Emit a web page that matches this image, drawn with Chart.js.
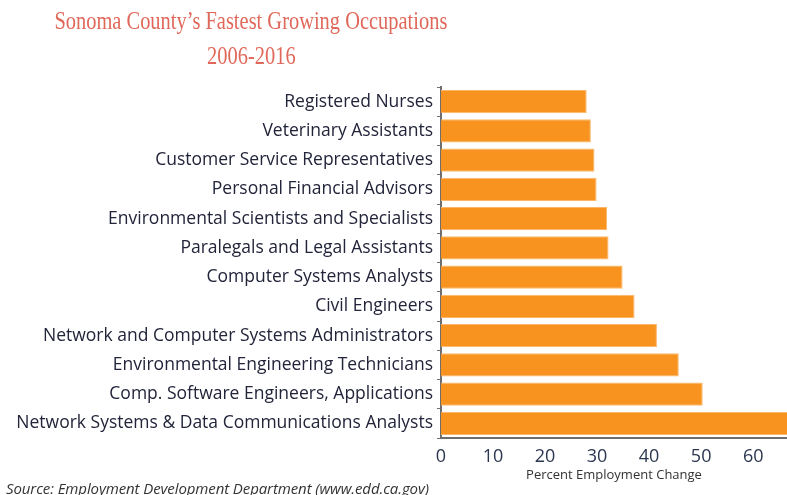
<!DOCTYPE html>
<html>
<head>
<meta charset="utf-8">
<script src="https://cdn.jsdelivr.net/npm/chart.js@4"></script>
<style>
  body { margin: 0; background: #fff; }
  #wrap { position: relative; width: 787px; height: 495px; overflow: hidden; }
  #title {
    position: absolute; left: 0; width: 502px; top: 3px;
    text-align: center; font-family: 'Liberation Serif', serif;
    font-size: 26px; line-height: 35px; color: #e0685a; white-space: nowrap;
  }
  #title span { display: inline-block; transform-origin: center; }
  #source {
    position: absolute; left: 6px; top: 478px;
    font-family: 'Open Sans', sans-serif; font-style: italic;
    font-size: 15px; color: #333; white-space: nowrap;
    letter-spacing: -0.1px;
  }
  canvas { position: absolute; left: 0; top: 0; }
</style>
</head>
<body>
<div id="wrap">
  <canvas id="myChart" width="787" height="495"></canvas>
  <div id="title"><span id="t1">Sonoma County’s Fastest Growing Occupations</span><br><span id="t2">2006-2016</span></div>
  <div id="source">Source: Employment Development Department (www.edd.ca.gov)</div>
</div>
<script>
'use strict';

const occupations = [
  'Registered Nurses',
  'Veterinary Assistants',
  'Customer Service Representatives',
  'Personal Financial Advisors',
  'Environmental Scientists and Specialists',
  'Paralegals and Legal Assistants',
  'Computer Systems Analysts',
  'Civil Engineers',
  'Network and Computer Systems Administrators',
  'Environmental Engineering Technicians',
  'Comp. Software Engineers, Applications',
  'Network Systems & Data Communications Analysts'
];
const percentChange = [28.0, 28.8, 29.5, 29.9, 31.9, 32.2, 34.9, 37.2, 41.5, 45.7, 50.3, 67.0];
const xTicks = [0, 10, 20, 30, 40, 50, 60];

// squeeze the serif title to the narrow width seen in the picture
const t1 = document.getElementById('t1');
const t2 = document.getElementById('t2');
const squeeze = 393 / t1.getBoundingClientRect().width;
t1.style.transform = 'scaleX(' + squeeze + ')';
t2.style.transform = 'scaleX(' + squeeze + ')';

const ctx = document.getElementById('myChart').getContext('2d');
const chart = new Chart(ctx, {
  type: 'bar',
  data: {
    labels: occupations,
    datasets: [{
      label: 'Percent Employment Change',
      backgroundColor: '#f7931e',
      borderColor: '#fbb66a',
      borderWidth: 1,
      data: percentChange,
      barPercentage: 0.8,
      categoryPercentage: 1
    }]
  },
  options: {
    indexAxis: 'y',
    responsive: false,
    animation: false,
    layout: { padding: { top: 87, right: 0, bottom: 12, left: 0 } },
    plugins: {
      legend: { display: false },
      tooltip: { enabled: false }
    },
    scales: {
      x: {
        min: 0,
        max: 66.5,
        afterBuildTicks: function (axis) {
          axis.ticks = xTicks.map(v => ({ value: v }));
        },
        afterFit: function (axis) { axis.height = 45; },
        grid: { display: false, drawOnChartArea: false },
        border: { display: true, color: '#6e6e6e', width: 2 },
        ticks: {
          color: '#2b3650',
          font: { family: 'Open Sans', size: 18 },
          padding: 0,
          autoSkip: false,
          maxRotation: 0
        },
        title: {
          display: true,
          text: 'Percent Employment Change',
          color: '#333',
          font: { family: 'Open Sans', size: 13 },
          padding: { top: 0, bottom: 0 }
        }
      },
      y: {
        afterFit: function (axis) { axis.width = 441; },
        grid: { display: true, drawOnChartArea: false, offset: true, tickLength: 4, color: '#6e6e6e' },
        border: { display: true, color: '#6e6e6e', width: 2 },
        ticks: {
          color: '#22243a',
          font: { family: 'Open Sans', size: 17.5 },
          padding: 4,
          autoSkip: false
        }
      }
    }
  }
});
</script>
</body>
</html>
